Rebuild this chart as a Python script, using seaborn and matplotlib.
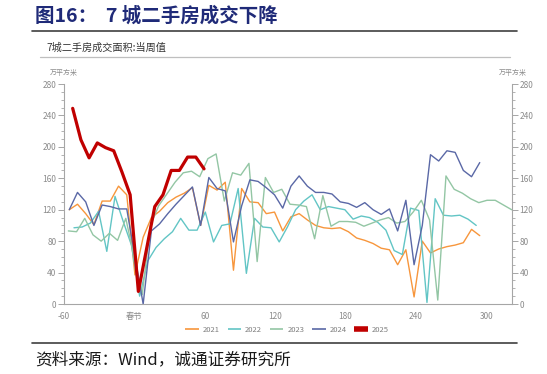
import numpy as np
import pandas as pd
import matplotlib
matplotlib.use("Agg")
import matplotlib.pyplot as plt
import seaborn as sns
from matplotlib.lines import Line2D
from matplotlib.ticker import MultipleLocator

# weekly second-hand housing deals, 7 cities (万平方米)
# x = days relative to 春节, each series starts at its own offset, one point per week
start_2021 = -55.5
vals_2021 = [120, 127, 115, 101, 131, 131, 150, 139, 37, 85, 110, 118, 129, 136, 141,
             148, 100, 151, 145, 155, 43, 147, 130, 129, 115, 117, 93, 111, 115, 107,
             100, 97, 96, 97, 92, 84, 81, 77, 71, 69, 50, 69, 9, 80, 65, 70, 73, 75,
             78, 95, 87]

start_2022 = -51.5
vals_2022 = [97, 98, 103, 118, 67, 137, 105, 75, 10, 55, 72, 83, 92, 109, 94, 94, 117,
             79, 100, 102, 147, 39, 109, 98, 97, 79, 98, 120, 131, 139, 120, 124, 122,
             120, 108, 112, 110, 104, 94, 68, 63, 122, 119, 2, 134, 113, 112, 113, 108,
             100]

start_2023 = -56.3
vals_2023 = [93, 92, 109, 88, 80, 90, 81, 109, 60, 12, 100, 125, 140, 155, 167, 169,
             162, 185, 191, 131, 167, 164, 179, 54, 161, 142, 146, 127, 126, 124, 83,
             138, 99, 105, 105, 104, 99, 103, 107, 110, 103, 105, 117, 132, 107, 5, 163,
             146, 141, 134, 129, 132, 132, 126, 120]

start_2024 = -55.5
vals_2024 = [120, 142, 130, 100, 126, 124, 121, 121, 60, 0, 93, 102, 115, 127, 138,
             149, 100, 161, 147, 144, 79, 125, 158, 156, 148, 139, 122, 150, 163, 150,
             142, 142, 140, 130, 128, 123, 129, 120, 114, 121, 93, 132, 50, 100, 190,
             182, 195, 193, 170, 162, 180]

start_2025 = -52.6
vals_2025 = [249, 209, 186, 205, 199, 195, 168, 139, 16, 70, 124, 139, 170, 170, 187,
             187, 172]

years = ["2021", "2022", "2023", "2024", "2025"]
x_ticks = [-60, 0, 60, 120, 180, 240, 300]
x_labels = ["-60", "春节", "60", "120", "180", "240", "300"]

colors = {"2021": "#F7963C", "2022": "#62C5C5", "2023": "#93C6A4",
          "2024": "#5A68A6", "2025": "#C00000"}
widths = {"2021": 1.0, "2022": 1.0, "2023": 1.0, "2024": 1.0, "2025": 2.3}

frames = []
for year, start, vals in [("2021", start_2021, vals_2021), ("2022", start_2022, vals_2022),
                          ("2023", start_2023, vals_2023), ("2024", start_2024, vals_2024),
                          ("2025", start_2025, vals_2025)]:
    days = start + 7 * np.arange(len(vals))
    frames.append(pd.DataFrame({"day": days, "value": vals, "year": year}))
df = pd.concat(frames, ignore_index=True)

sns.set_style("white")
plt.rcParams['font.family'] = ['Noto Sans CJK SC', 'DejaVu Sans']

fig = plt.figure(figsize=(5.47, 3.74), dpi=100)
ax = fig.add_axes([64 / 547, 70 / 374, 448 / 547, 220 / 374])

for year in years:
    sub = df[df["year"] == year]
    sns.lineplot(data=sub, x="day", y="value", color=colors[year],
                 linewidth=widths[year], ax=ax, legend=False, sort=False)

ax.set_xlim(-60, 322)
ax.set_ylim(0, 280)
ax.set_xlabel("")
ax.set_ylabel("")
ax.set_xticks(x_ticks)
ax.set_xticklabels(x_labels)
ax.yaxis.set_major_locator(MultipleLocator(40))
ax.yaxis.set_minor_locator(MultipleLocator(10))

ax2 = ax.twinx()
ax2.set_ylim(0, 280)
ax2.yaxis.set_major_locator(MultipleLocator(40))
ax2.yaxis.set_minor_locator(MultipleLocator(10))

spine_c = "#A6A6A6"
for a in (ax, ax2):
    for s in a.spines.values():
        s.set_visible(False)
    a.tick_params(which="major", length=4, width=0.7, color=spine_c,
                  labelsize=6, labelcolor="#8C8C8C", direction="out", pad=1.5)
    a.tick_params(which="minor", length=2, width=0.6, color=spine_c, direction="out")
ax.spines["left"].set_visible(True)
ax.spines["bottom"].set_visible(True)
ax2.spines["right"].set_visible(True)
for s in (ax.spines["left"], ax.spines["bottom"], ax2.spines["right"]):
    s.set_color(spine_c)
    s.set_linewidth(0.8)

# units
fig.text(50 / 547, 1 - 73 / 374, "万平方米", fontsize=5, color="#8C8C8C", va="center")
fig.text(499 / 547, 1 - 73 / 374, "万平方米", fontsize=5, color="#8C8C8C", va="center")

# title block
fig.text(35 / 547, 1 - 16 / 374, "图16：  7 城二手房成交下降", fontsize=14,
         fontweight="bold", color="#1F2A78", va="center")
fig.add_artist(Line2D([32 / 547, 517 / 547], [1 - 31 / 374, 1 - 31 / 374],
                      transform=fig.transFigure, color="#404040", lw=1.2))
fig.text(46 / 547, 1 - 47.5 / 374, "7城二手房成交面积:当周值", fontsize=7.3,
         color="#333333", va="center")
fig.add_artist(Line2D([40 / 547, 510 / 547], [1 - 57 / 374, 1 - 57 / 374],
                      transform=fig.transFigure, color="#BFBFBF", lw=0.9))

# legend
handles = [Line2D([], [], color=colors[y], lw=(4 if y == "2025" else 1.2),
                  solid_capstyle="butt") for y in years]
fig.legend(handles, years, loc="center", bbox_to_anchor=(287 / 547, 1 - 330 / 374),
           ncol=5, frameon=False, fontsize=5.5, labelcolor="#7F7F7F",
           handlelength=1.8, columnspacing=1.0, handletextpad=0.5)

# source
fig.add_artist(Line2D([32 / 547, 517 / 547], [1 - 343 / 374, 1 - 343 / 374],
                      transform=fig.transFigure, color="#404040", lw=1.2))
fig.text(35 / 547, 1 - 360 / 374, "资料来源：Wind，诚通证券研究所", fontsize=12,
         color="#1A1A1A", va="center")

fig.savefig("out.png", dpi=100)
